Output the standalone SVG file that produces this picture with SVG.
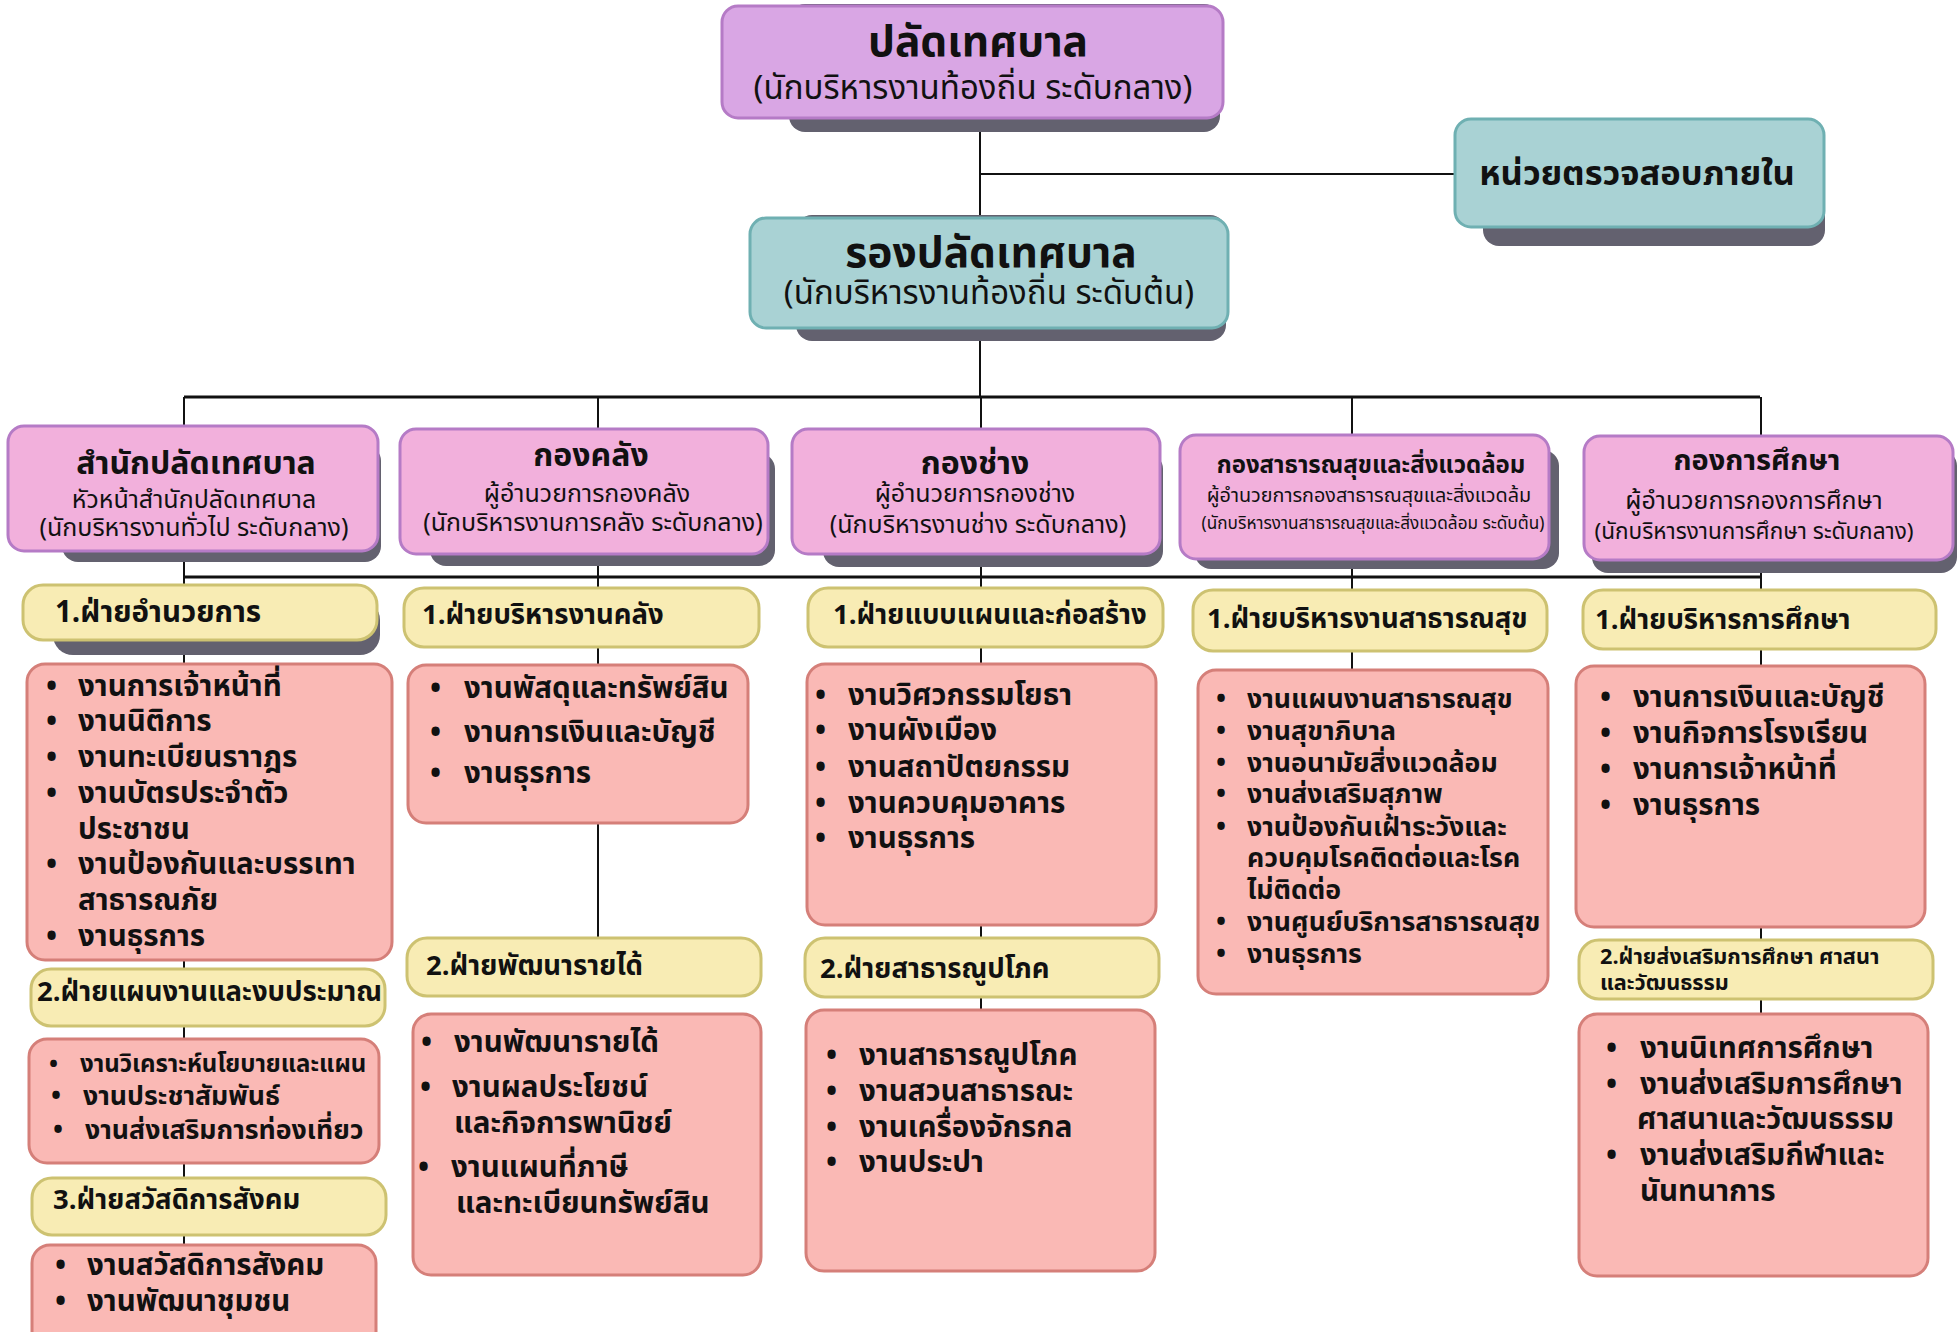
<svg xmlns="http://www.w3.org/2000/svg" width="1959" height="1332" viewBox="0 0 1959 1332">
<style>
text{font-family:"Noto Sans Thai","Noto Sans","DejaVu Sans",sans-serif;fill:#111}
.b{font-weight:700}
.sh{fill:#63616f}
.top{fill:#d9a6e4;stroke:#b57bc6;stroke-width:3}
.teal{fill:#a9d2d4;stroke:#6fb0b2;stroke-width:3}
.dept{fill:#f2b0dc;stroke:#b57bc6;stroke-width:3}
.yel{fill:#f8ecb4;stroke:#cdc271;stroke-width:3}
.pk{fill:#fab9b5;stroke:#d57f79;stroke-width:3}
.ln{stroke:#111;stroke-width:2;fill:none}
.bus{stroke:#111;stroke-width:3;fill:none}
.c{text-anchor:middle}
.h1{font-size:42.5px}.sub1{font-size:33px}.aud{font-size:34.5px}
.dt{font-size:32px}.ds{font-size:25px}
.y{font-size:27.5px}.li{font-size:29.5px}.li2{font-size:26.7px}
</style>
<g id="connectors">
<path class="ln" d="M980 118V397M980 174H1455"/>
<path class="bus" d="M184 397H1760M184 577H1760"/>
<path class="ln" d="M184 397V1245M598 397V938M981 397V1010M1352 397V670M1761 397V1014"/>
</g>
<g id="n-palad">
<rect class="sh" x="789" y="4" width="431" height="128" rx="16"/>
<rect class="top" x="722" y="6" width="501" height="112" rx="16"/>
<text class="b c h1" x="978" y="56">ปลัดเทศบาล</text>
<text class="c sub1" x="973" y="99">(นักบริหารงานท้องถิ่น ระดับกลาง)</text>
</g>
<g id="n-audit">
<rect class="sh" x="1483" y="122" width="342" height="124" rx="16"/>
<rect class="teal" x="1455" y="119" width="369" height="108" rx="16"/>
<text class="b c aud" x="1637" y="185">หน่วยตรวจสอบภายใน</text>
</g>
<g id="n-rongpalad">
<rect class="sh" x="796" y="215" width="430" height="126" rx="16"/>
<rect class="teal" x="750" y="218" width="478" height="110" rx="16"/>
<text class="b c h1" x="991" y="267">รองปลัดเทศบาล</text>
<text class="c sub1" x="989" y="304">(นักบริหารงานท้องถิ่น ระดับต้น)</text>
</g>
<g id="n-samnak">
<rect class="sh" x="62" y="445" width="319" height="117" rx="16"/>
<rect class="dept" x="8" y="426" width="370" height="125" rx="16"/>
<text class="b c dt" x="196" y="474">สำนักปลัดเทศบาล</text>
<text class="c ds" x="194" y="508">หัวหน้าสำนักปลัดเทศบาล</text>
<text class="c ds" x="194" y="536">(นักบริหารงานทั่วไป ระดับกลาง)</text>
</g>
<g id="n-klang">
<rect class="sh" x="430" y="453" width="345" height="113" rx="16"/>
<rect class="dept" x="400" y="429" width="368" height="125" rx="16"/>
<text class="b c dt" x="591" y="466">กองคลัง</text>
<text class="c ds" x="587" y="502">ผู้อำนวยการกองคลัง</text>
<text class="c ds" x="593" y="531">(นักบริหารงานการคลัง ระดับกลาง)</text>
</g>
<g id="n-chang">
<rect class="sh" x="823" y="453" width="340" height="114" rx="16"/>
<rect class="dept" x="792" y="429" width="368" height="125" rx="16"/>
<text class="b c dt" x="975" y="474">กองช่าง</text>
<text class="c ds" x="975" y="502">ผู้อำนวยการกองช่าง</text>
<text class="c ds" x="978" y="533">(นักบริหารงานช่าง ระดับกลาง)</text>
</g>
<g id="n-health">
<rect class="sh" x="1195" y="450" width="364" height="119" rx="16"/>
<rect class="dept" x="1180" y="435" width="369" height="124" rx="16"/>
<text class="b c" style="font-size:24px" x="1371" y="473">กองสาธารณสุขและสิ่งแวดล้อม</text>
<text class="c" style="font-size:19.8px" x="1369" y="502">ผู้อำนวยการกองสาธารณสุขและสิ่งแวดล้ม</text>
<text class="c" style="font-size:17.2px" x="1373" y="529">(นักบริหารงานสาธารณสุขและสิ่งแวดล้อม ระดับต้น)</text>
</g>
<g id="n-edu">
<rect class="sh" x="1592" y="450" width="365" height="123" rx="16"/>
<rect class="dept" x="1584" y="436" width="369" height="124" rx="16"/>
<text class="b c" style="font-size:29px" x="1757" y="470">กองการศึกษา</text>
<text class="c ds" x="1754" y="509">ผู้อำนวยการกองการศึกษา</text>
<text class="c" style="font-size:22.6px" x="1754" y="539">(นักบริหารงานการศึกษา ระดับกลาง)</text>
</g>
<g id="c1-div1">
<rect class="sh" x="53" y="600" width="327" height="55" rx="20"/>
<rect class="yel" x="23" y="585" width="354" height="55" rx="20"/>
<text class="b" style="font-size:29.5px" x="55" y="622">1.ฝ่ายอำนวยการ</text>
</g>
<g id="c1-list1" class="b li">
<rect class="pk" x="27" y="664" width="365" height="296" rx="18"/>
<text x="46" y="696">•</text><text x="78" y="696">งานการเจ้าหน้าที่</text>
<text x="46" y="731">•</text><text x="78" y="731">งานนิติการ</text>
<text x="46" y="767">•</text><text x="78" y="767">งานทะเบียนราาฎร</text>
<text x="46" y="803">•</text><text x="78" y="803">งานบัตรประจำตัว</text>
<text x="78" y="839">ประชาชน</text>
<text x="46" y="874">•</text><text x="78" y="874">งานป้องกันและบรรเทา</text>
<text x="78" y="910">สาธารณภัย</text>
<text x="46" y="946">•</text><text x="78" y="946">งานธุรการ</text>
</g>
<g id="c1-div2">
<rect class="yel" x="31" y="969" width="354" height="57" rx="20"/>
<text class="b y" x="37" y="1001">2.ฝ่ายแผนงานและงบประมาณ</text>
</g>
<g id="c1-list2" class="b">
<rect class="pk" x="29" y="1039" width="350" height="124" rx="18"/>
<text style="font-size:24px" x="49" y="1072">•</text><text style="font-size:24px" x="80" y="1072">งานวิเคราะห์นโยบายและแผน</text>
<text class="li2" x="51" y="1105">•</text><text class="li2" x="83" y="1105">งานประชาสัมพันธ์</text>
<text class="li2" x="53" y="1139">•</text><text class="li2" x="85" y="1139">งานส่งเสริมการท่องเที่ยว</text>
</g>
<g id="c1-div3">
<rect class="yel" x="32" y="1178" width="354" height="57" rx="20"/>
<text class="b y" x="53" y="1209">3.ฝ่ายสวัสดิการสังคม</text>
</g>
<g id="c1-list3" class="b li">
<rect class="pk" x="32" y="1245" width="344" height="110" rx="18"/>
<text x="55" y="1275">•</text><text x="87" y="1275">งานสวัสดิการสังคม</text>
<text x="55" y="1311">•</text><text x="87" y="1311">งานพัฒนาชุมชน</text>
</g>
<g id="c2-div1">
<rect class="yel" x="404" y="588" width="355" height="59" rx="20"/>
<text class="b y" x="422" y="624">1.ฝ่ายบริหารงานคลัง</text>
</g>
<g id="c2-list1" class="b li">
<rect class="pk" x="408" y="665" width="340" height="158" rx="18"/>
<text x="430" y="698">•</text><text x="464" y="698">งานพัสดุและทรัพย์สิน</text>
<text x="430" y="742">•</text><text x="464" y="742">งานการเงินและบัญชี</text>
<text x="430" y="783">•</text><text x="464" y="783">งานธุรการ</text>
</g>
<g id="c2-div2">
<rect class="yel" x="407" y="938" width="354" height="58" rx="20"/>
<text class="b y" x="426" y="975">2.ฝ่ายพัฒนารายได้</text>
</g>
<g id="c2-list2" class="b li">
<rect class="pk" x="413" y="1014" width="348" height="261" rx="18"/>
<text x="421" y="1052">•</text><text x="454" y="1052">งานพัฒนารายได้</text>
<text x="420" y="1097">•</text><text x="452" y="1097">งานผลประโยชน์</text>
<text x="454" y="1133">และกิจการพานิชย์</text>
<text x="418" y="1177">•</text><text x="451" y="1177">งานแผนที่ภาษี</text>
<text x="456" y="1213">และทะเบียนทรัพย์สิน</text>
</g>
<g id="c3-div1">
<rect class="yel" x="808" y="588" width="355" height="59" rx="20"/>
<text class="b y" x="833" y="624">1.ฝ่ายแบบแผนและก่อสร้าง</text>
</g>
<g id="c3-list1" class="b li">
<rect class="pk" x="807" y="664" width="349" height="261" rx="18"/>
<text x="815" y="705">•</text><text x="848" y="705">งานวิศวกรรมโยธา</text>
<text x="815" y="740">•</text><text x="848" y="740">งานผังเมือง</text>
<text x="815" y="777">•</text><text x="848" y="777">งานสถาปัตยกรรม</text>
<text x="815" y="813">•</text><text x="848" y="813">งานควบคุมอาคาร</text>
<text x="815" y="848">•</text><text x="848" y="848">งานธุรการ</text>
</g>
<g id="c3-div2">
<rect class="yel" x="805" y="938" width="354" height="59" rx="20"/>
<text class="b y" x="820" y="978">2.ฝ่ายสาธารณูปโภค</text>
</g>
<g id="c3-list2" class="b li">
<rect class="pk" x="806" y="1010" width="349" height="261" rx="18"/>
<text x="826" y="1065">•</text><text x="859" y="1065">งานสาธารณูปโภค</text>
<text x="826" y="1101">•</text><text x="859" y="1101">งานสวนสาธารณะ</text>
<text x="826" y="1137">•</text><text x="859" y="1137">งานเครื่องจักรกล</text>
<text x="826" y="1172">•</text><text x="859" y="1172">งานประปา</text>
</g>
<g id="c4-div1">
<rect class="yel" x="1193" y="590" width="354" height="61" rx="20"/>
<text class="b y" x="1207" y="628">1.ฝ่ายบริหารงานสาธารณสุข</text>
</g>
<g id="c4-list1" class="b li2">
<rect class="pk" x="1198" y="670" width="350" height="324" rx="18"/>
<text x="1216" y="708">•</text><text x="1247" y="708">งานแผนงานสาธารณสุข</text>
<text x="1216" y="740">•</text><text x="1247" y="740">งานสุขาภิบาล</text>
<text x="1216" y="772">•</text><text x="1247" y="772">งานอนามัยสิ่งแวดล้อม</text>
<text x="1216" y="803">•</text><text x="1247" y="803">งานส่งเสริมสุภาพ</text>
<text x="1216" y="836">•</text><text x="1247" y="836">งานป้องกันเฝ้าระวังและ</text>
<text x="1247" y="867">ควบคุมโรคติดต่อและโรค</text>
<text x="1247" y="899">ไม่ติดต่อ</text>
<text x="1216" y="931">•</text><text x="1247" y="931">งานศูนย์บริการสาธารณสุข</text>
<text x="1216" y="963">•</text><text x="1247" y="963">งานธุรการ</text>
</g>
<g id="c5-div1">
<rect class="yel" x="1583" y="590" width="353" height="59" rx="20"/>
<text class="b y" x="1595" y="629">1.ฝ่ายบริหารการศึกษา</text>
</g>
<g id="c5-list1" class="b li">
<rect class="pk" x="1576" y="666" width="349" height="261" rx="18"/>
<text x="1600" y="707">•</text><text x="1633" y="707">งานการเงินและบัญชี</text>
<text x="1600" y="743">•</text><text x="1633" y="743">งานกิจการโรงเรียน</text>
<text x="1600" y="779">•</text><text x="1633" y="779">งานการเจ้าหน้าที่</text>
<text x="1600" y="815">•</text><text x="1633" y="815">งานธุรการ</text>
</g>
<g id="c5-div2" class="b" style="font-size:21.7px">
<rect class="yel" x="1579" y="940" width="354" height="59" rx="20"/>
<text x="1600" y="964">2.ฝ่ายส่งเสริมการศึกษา ศาสนา</text>
<text x="1600" y="990">และวัฒนธรรม</text>
</g>
<g id="c5-list2" class="b li">
<rect class="pk" x="1579" y="1014" width="349" height="262" rx="18"/>
<text x="1606" y="1058">•</text><text x="1640" y="1058">งานนิเทศการศึกษา</text>
<text x="1606" y="1094">•</text><text x="1640" y="1094">งานส่งเสริมการศึกษา</text>
<text x="1637" y="1129">ศาสนาและวัฒนธรรม</text>
<text x="1606" y="1165">•</text><text x="1640" y="1165">งานส่งเสริมกีฬาและ</text>
<text x="1640" y="1201">นันทนาการ</text>
</g>
</svg>
